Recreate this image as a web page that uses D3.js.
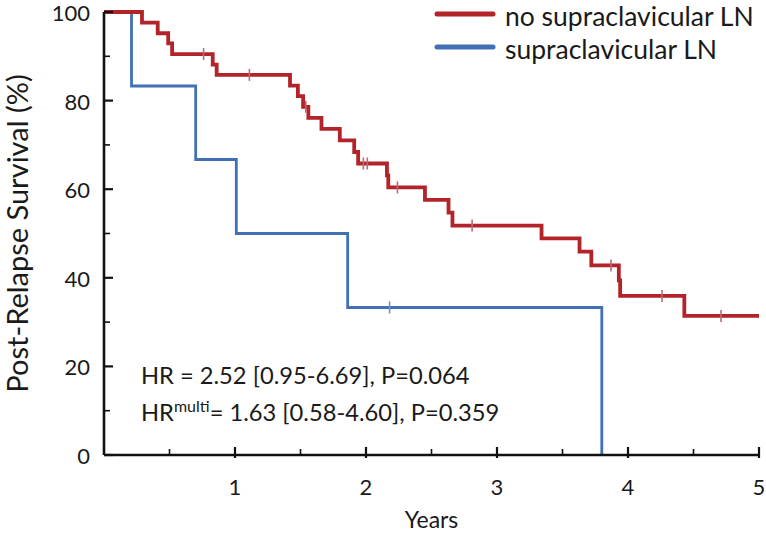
<!DOCTYPE html>
<html>
<head>
<meta charset="utf-8">
<script src="https://cdn.jsdelivr.net/npm/d3@7"></script>
<style>
  html, body { margin: 0; padding: 0; background: #fff; }
  svg { display: block; font-family: Lato, "Open Sans", sans-serif; }
</style>
</head>
<body>
<svg id="chart" width="766" height="538"></svg>
<script>
// ---- data ----
const xTicks = [1, 2, 3, 4, 5];
const xMinorTicks = [0.5, 1.5, 2.5, 3.5, 4.5];
const yTicks = [0, 20, 40, 60, 80, 100];
const yMinorTicks = [10, 30, 50, 70, 90];

const seriesNames = ["no supraclavicular LN", "supraclavicular LN"];

// no supraclavicular LN (red) – step points (time in years, survival %)
const redTimes = [0, 0.29, 0.41, 0.49, 0.52, 0.83, 0.86, 1.42, 1.48, 1.52, 1.56, 1.66, 1.80, 1.91, 1.94, 2.16, 2.17, 2.45, 2.63, 2.66, 3.34, 3.63, 3.72, 3.93, 3.94, 4.43, 5.0];
const redSurv  = [100, 97.6, 95.2, 92.9, 90.5, 88.1, 85.8, 83.4, 81.0, 78.6, 76.1, 73.6, 71.0, 68.4, 65.8, 63.1, 60.4, 57.6, 54.7, 51.8, 48.9, 45.9, 42.8, 39.4, 35.9, 31.4, 31.4];
const redCensorTimes = [0.76, 1.11, 1.54, 1.98, 2.01, 2.24, 2.81, 3.87, 4.26, 4.71];
const redCensorSurv  = [90.5, 85.8, 78.6, 65.8, 65.8, 60.4, 51.8, 42.8, 35.9, 31.4];

// supraclavicular LN (blue)
const blueTimes = [0, 0.21, 0.70, 1.01, 1.86, 3.80];
const blueSurv  = [100, 83.3, 66.7, 50.0, 33.3, 0];
const blueCensorTimes = [2.18];
const blueCensorSurv  = [33.3];

const hrLine1 = "HR = 2.52 [0.95-6.69], P=0.064";
const hrLine2Main = "HR";
const hrLine2Sup = "multi";
const hrLine2Rest = "= 1.63 [0.58-4.60], P=0.359";

// ---- drawing ----
(function () {
const svg = d3.select("#chart");
const mLeft = 104, mRight = 759, mTop = 12, mBottom = 455;
const x = d3.scaleLinear().domain([0, 5]).range([mLeft, mRight]);
const y = d3.scaleLinear().domain([0, 100]).range([mBottom, mTop]);

const red = "#b2232a", blue = "#4170b4";
const textColor = "#1a1a1a";

// curves
const line = d3.line().x(d => x(d[0])).y(d => y(d[1])).curve(d3.curveStepAfter);
const redData = redTimes.map((t, i) => [t, redSurv[i]]);
const blueData = blueTimes.map((t, i) => [t, blueSurv[i]]);

svg.append("path").datum(blueData).attr("d", line)
  .attr("fill", "none").attr("stroke", blue).attr("stroke-width", 2.8);
svg.append("path").datum(redData).attr("d", line)
  .attr("fill", "none").attr("stroke", red).attr("stroke-width", 3.8);

// censor marks
const redCens = redCensorTimes.map((t, i) => [t, redCensorSurv[i]]);
const blueCens = blueCensorTimes.map((t, i) => [t, blueCensorSurv[i]]);
svg.selectAll(".rc").data(redCens).enter().append("line")
  .attr("x1", d => x(d[0])).attr("x2", d => x(d[0]))
  .attr("y1", d => y(d[1]) - 6).attr("y2", d => y(d[1]) + 6)
  .attr("stroke", "#b86a78").attr("stroke-width", 1.6);
svg.selectAll(".bc").data(blueCens).enter().append("line")
  .attr("x1", d => x(d[0])).attr("x2", d => x(d[0]))
  .attr("y1", d => y(d[1]) - 6).attr("y2", d => y(d[1]) + 6)
  .attr("stroke", "#6f90c4").attr("stroke-width", 1.6);

// axes
const axisG = svg.append("g");
axisG.append("line").attr("x1", mLeft).attr("x2", mLeft).attr("y1", y(100)).attr("y2", y(0))
  .attr("stroke", "#111").attr("stroke-width", 2.6);
axisG.append("line").attr("x1", mLeft).attr("x2", mRight + 1).attr("y1", y(0)).attr("y2", y(0))
  .attr("stroke", "#111").attr("stroke-width", 2.6);

// y ticks
axisG.selectAll(".ytk").data(yTicks).enter().append("line")
  .attr("x1", mLeft).attr("x2", mLeft + 9).attr("y1", d => y(d)).attr("y2", d => y(d))
  .attr("stroke", "#111").attr("stroke-width", 2.2);
axisG.selectAll(".ytm").data(yMinorTicks).enter().append("line")
  .attr("x1", mLeft).attr("x2", mLeft + 6).attr("y1", d => y(d)).attr("y2", d => y(d))
  .attr("stroke", "#111").attr("stroke-width", 1.6);
axisG.selectAll(".ytl").data(yTicks).enter().append("text")
  .attr("x", 90).attr("y", d => y(d) + 1).attr("dy", "0.36em")
  .attr("text-anchor", "end").attr("font-size", 22).attr("fill", textColor)
  .text(d => d);

// x ticks
axisG.selectAll(".xtk").data(xTicks).enter().append("line")
  .attr("x1", d => x(d)).attr("x2", d => x(d)).attr("y1", y(0) - 8).attr("y2", y(0) + 3)
  .attr("stroke", "#111").attr("stroke-width", 2.2);
axisG.selectAll(".xtm").data(xMinorTicks).enter().append("line")
  .attr("x1", d => x(d)).attr("x2", d => x(d)).attr("y1", y(0) - 6).attr("y2", y(0))
  .attr("stroke", "#111").attr("stroke-width", 1.6);
axisG.selectAll(".xtl").data(xTicks).enter().append("text")
  .attr("x", d => x(d)).attr("y", 495)
  .attr("text-anchor", "middle").attr("font-size", 22).attr("fill", textColor)
  .text(d => d);

// axis titles
svg.append("text").attr("x", (mLeft + mRight) / 2).attr("y", 528)
  .attr("text-anchor", "middle").attr("font-size", 23).attr("fill", textColor).text("Years");
svg.append("text").attr("transform", `translate(28, ${(mTop + mBottom) / 2}) rotate(-90)`)
  .attr("text-anchor", "middle").attr("font-size", 29).attr("fill", textColor)
  .text("Post-Relapse Survival (%)");

// legend
const legY = [14, 47];
const legColors = [red, blue];
seriesNames.forEach((name, i) => {
  svg.append("line").attr("x1", 437).attr("x2", 493).attr("y1", legY[i]).attr("y2", legY[i])
    .attr("stroke", legColors[i]).attr("stroke-width", 5).attr("stroke-linecap", "round");
  svg.append("text").attr("x", 505).attr("y", legY[i] + 1).attr("dy", "0.42em")
    .attr("font-size", 26.5).attr("fill", textColor).text(name);
});

// HR annotation
svg.append("text").attr("x", 141).attr("y", 384).attr("font-size", 23.7).attr("fill", textColor).text(hrLine1);
const t2 = svg.append("text").attr("x", 141).attr("y", 421).attr("font-size", 23.7).attr("fill", textColor);
t2.append("tspan").text(hrLine2Main);
t2.append("tspan").attr("font-size", 16).attr("dy", -9).text(hrLine2Sup);
t2.append("tspan").attr("dy", 9).text(hrLine2Rest);
})();
</script>
</body>
</html>
